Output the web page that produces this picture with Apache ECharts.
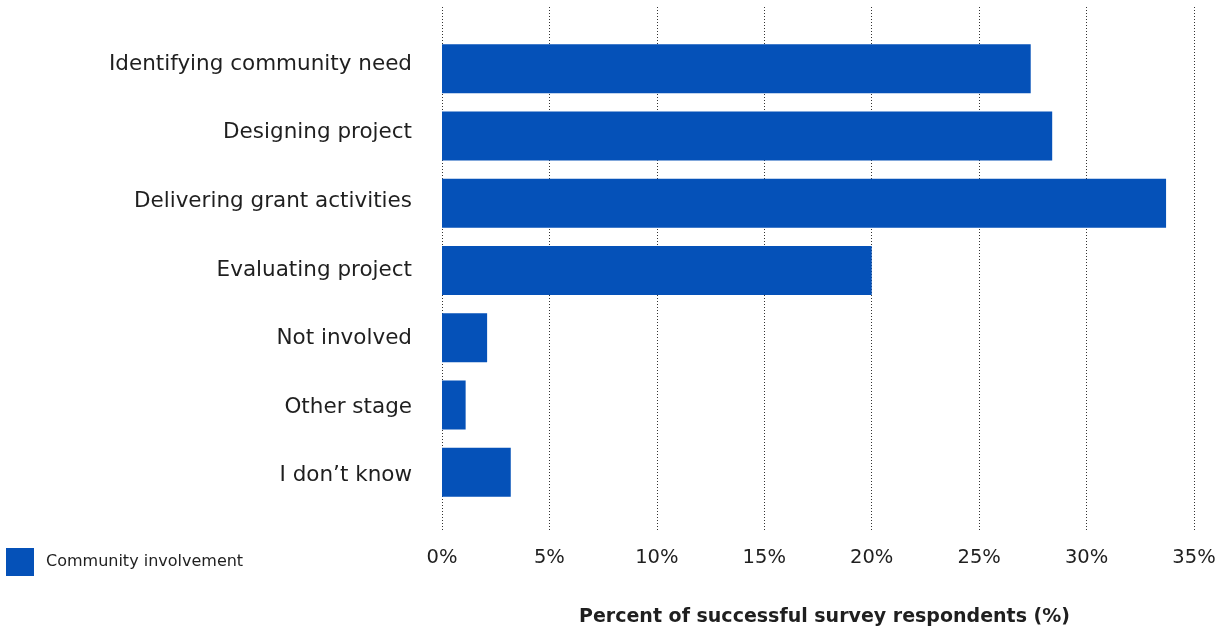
<!DOCTYPE html>
<html>
<head>
<meta charset="utf-8">
<script src="https://cdn.jsdelivr.net/npm/echarts@6/dist/echarts.min.js"></script>
<style>
  html, body { margin: 0; padding: 0; background: #fff; }
  #chart { width: 1221px; height: 633px; }
</style>
</head>
<body>
<div id="chart"></div>
<script>
// Stages of the grant process where the community was involved
const stages = [
  'Identifying community need',
  'Designing project',
  'Delivering grant activities',
  'Evaluating project',
  'Not involved',
  'Other stage',
  'I don\u2019t know'
];
// Share of successful survey respondents (%)
const involvement = [27.4, 28.4, 33.7, 20.0, 2.1, 1.1, 3.2];
const seriesName = 'Community involvement';
const axisTitle = 'Percent of successful survey respondents (%)';
const xTicks = [0, 5, 10, 15, 20, 25, 30, 35];

const FONT = 'DejaVu Sans';
const TEXT = '#1f1f1f';
const BLUE = '#0551b8';

const chart = echarts.init(document.getElementById('chart'));
chart.setOption({
  animation: false,
  textStyle: { fontFamily: FONT },
  legend: {
    data: [seriesName],
    left: 6, top: 548, padding: 0,
    icon: 'rect',
    itemWidth: 28, itemHeight: 28,
    textStyle: { fontSize: 16, color: TEXT, fontFamily: FONT, padding: [0, 0, 0, 7] }
  },
  grid: [
    // bars
    { left: 442, right: 27, top: 35, height: 471 },
    // gridlines and tick labels
    { left: 442, right: 27, top: 7, bottom: 103 },
    // stage labels, on a slightly looser spacing than the bars
    { left: 442, right: 27, top: 30, height: 480 }
  ],
  xAxis: [
    { gridIndex: 0, type: 'value', min: 0, max: 35, interval: 5, show: false },
    {
      gridIndex: 1, type: 'value',
      min: xTicks[0], max: xTicks[xTicks.length - 1], interval: 5,
      axisLine: { show: false }, axisTick: { show: false },
      splitLine: { show: true, lineStyle: { color: '#333', type: [1, 2], width: 1 } },
      axisLabel: { formatter: '{value}%', fontSize: 19.5, color: TEXT, margin: 18, fontFamily: FONT },
      name: axisTitle, nameLocation: 'middle', nameGap: 78,
      nameTextStyle: { fontSize: 19, fontWeight: 'bold', color: TEXT, fontFamily: FONT, padding: [0, 0, 0, 13] }
    },
    { gridIndex: 2, type: 'value', min: 0, max: 35, show: false }
  ],
  yAxis: [
    { gridIndex: 0, type: 'category', data: stages, inverse: true, show: false },
    { gridIndex: 1, type: 'value', show: false },
    {
      gridIndex: 2, type: 'category', data: stages, inverse: true,
      axisLine: { show: false }, axisTick: { show: false }, splitLine: { show: false },
      axisLabel: { fontSize: 21.5, color: TEXT, margin: 30, fontFamily: FONT }
    }
  ],
  series: [{
    name: seriesName,
    type: 'bar',
    xAxisIndex: 0, yAxisIndex: 0,
    data: involvement,
    barWidth: 49,
    itemStyle: { color: BLUE }
  }]
});
</script>
</body>
</html>
